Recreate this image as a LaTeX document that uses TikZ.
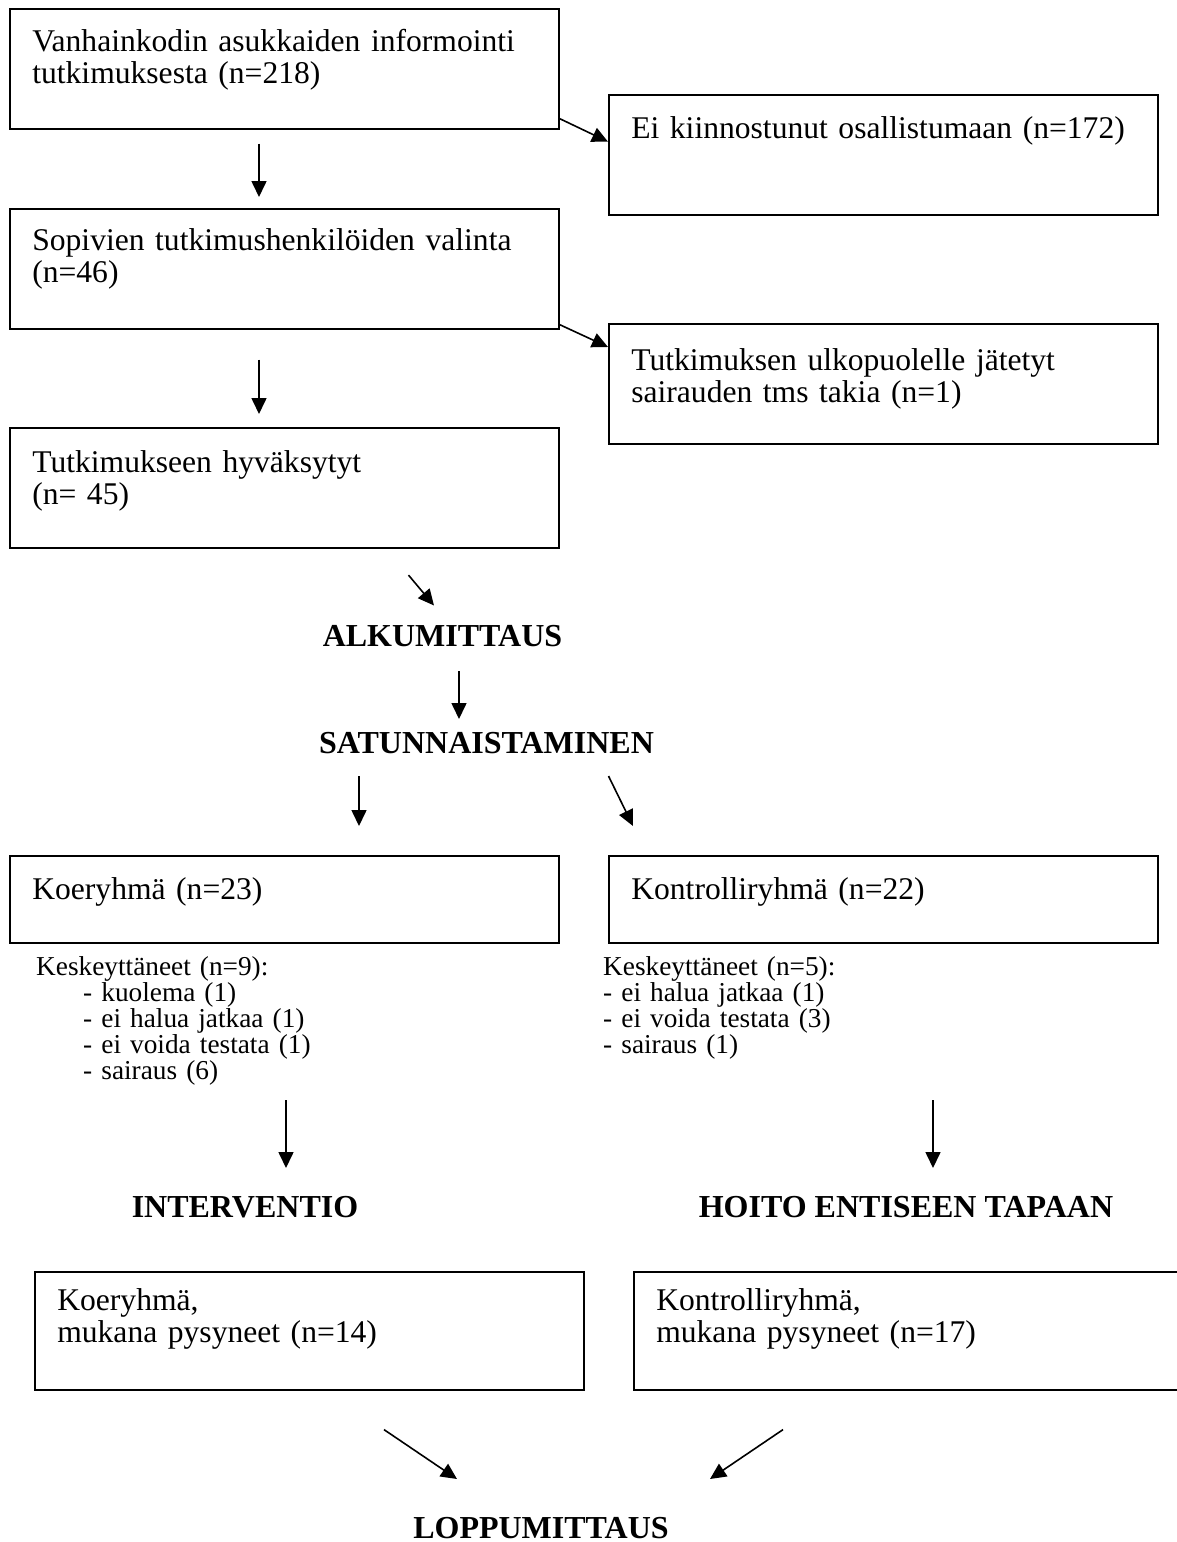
\documentclass[tikz,border=0pt]{standalone}
\usepackage{fontspec}
\setmainfont{Liberation Serif}
\usetikzlibrary{arrows.meta}
\usetikzlibrary{calc}

\newcommand{\boxfont}{\fontsize{31.6}{32}\selectfont}
\newcommand{\dropfont}{\fontsize{27.3}{26}\selectfont}
\newcommand{\phasefont}{\fontsize{32}{36}\selectfont\bfseries}

\begin{document}
\begin{tikzpicture}[
    x=1pt, y=-1pt,
    flowbox/.style={
        draw, line width=1.6pt, anchor=north west,
        align=left, text width=504pt,
        inner xsep=22.5pt, inner ysep=0pt,
        text height=44pt, text depth=76pt,
        font=\boxfont
    },
    phase/.style={anchor=base, inner sep=0pt, font=\phasefont},
    dropout/.style={anchor=base west, inner sep=0pt, align=left,
        text width=400pt, font=\dropfont},
    arr/.style={-{Triangle[length=16pt,width=15pt]}, line width=1.6pt}
]
\useasboundingbox (0,0) rectangle (1177,1542);

\node[flowbox, text height=43pt, text depth=77pt] (info) at (9,8) {Vanhainkodin asukkaiden informointi\\tutkimuksesta (n=218)};
\node[flowbox] (exclA) at (608,94) {Ei kiinnostunut osallistumaan (n=172)};
\node[flowbox, text height=42pt, text depth=78pt] (select) at (9,208) {Sopivien tutkimushenkilöiden valinta\\(n=46)};
\node[flowbox, text height=47pt, text depth=73pt] (exclB) at (608,323) {Tutkimuksen ulkopuolelle jätetyt\\sairauden tms takia (n=1)};
\node[flowbox, text height=45pt, text depth=75pt] (accept) at (9,427) {Tutkimukseen hyväksytyt\\(n= 45)};
\node[phase] (alku) at (442.5,646) {ALKUMITTAUS};
\node[phase] (satu) at (486.5,753) {SATUNNAISTAMINEN};
\node[flowbox, text depth=43pt] (treat) at (9,855) {Koeryhmä (n=23)};
\node[flowbox, text depth=43pt] (ctrl) at (608,855) {Kontrolliryhmä (n=22)};
\node[dropout] (treatDrop) at (36,975) {Keskeyttäneet (n=9):\\
    \hspace*{47pt}- kuolema (1)\\
    \hspace*{47pt}- ei halua jatkaa (1)\\
    \hspace*{47pt}- ei voida testata (1)\\
    \hspace*{47pt}- sairaus (6)};
\node[dropout] (ctrlDrop) at (603,975) {Keskeyttäneet (n=5):\\
    - ei halua jatkaa (1)\\
    - ei voida testata (3)\\
    - sairaus (1)};
\node[phase] (interv) at (245,1217) {INTERVENTIO};
\node[phase] (hoito) at (906,1217) {HOITO ENTISEEN TAPAAN};
\node[flowbox, text height=39pt, text depth=79pt] (treatEnd) at (34,1271) {Koeryhmä,\\mukana pysyneet (n=14)};
\node[flowbox, text height=39pt, text depth=79pt] (ctrlEnd) at (633,1271) {Kontrolliryhmä,\\mukana pysyneet (n=17)};
\node[phase] (loppu) at (541,1538) {LOPPUMITTAUS};

\draw[arr] ($(info.south west)+(250,14)$) -- ($(select.north west)+(250,-11)$);
\draw[arr] ($(select.south west)+(250,30)$) -- ($(accept.north west)+(250,-13)$);
\draw[arr] ($(info.south east)+(0,-11)$) -- ($(exclA.north west)+(0,47.7)$);
\draw[arr] ($(select.south east)+(0,-5)$) -- ($(exclB.north west)+(0,24)$);
\draw[arr] ($(accept.south west)+(399.5,26.5)$) -- ($(alku.base)+(-8.5,-40.5)$);
\draw[arr] ($(alku.base)+(16.5,25)$) -- ($(satu.base)+(-27.5,-34)$);
\draw[arr] ($(satu.base)+(-127.5,23)$) -- ($(treat.north west)+(350,-29)$);
\draw[arr] ($(satu.base)+(122,23)$) -- ($(ctrl.north west)+(25,-29)$);
\draw[arr] ($(treatDrop.base west)+(250,125)$) -- ($(interv.base)+(41,-49)$);
\draw[arr] ($(ctrlDrop.base west)+(330,125)$) -- ($(hoito.base)+(27,-49)$);
\draw[arr] ($(treatEnd.south west)+(350,39)$) -- ($(loppu.base)+(-84,-59)$);
\draw[arr] ($(ctrlEnd.south west)+(150,39)$) -- ($(loppu.base)+(169,-59)$);
\end{tikzpicture}
\end{document}
